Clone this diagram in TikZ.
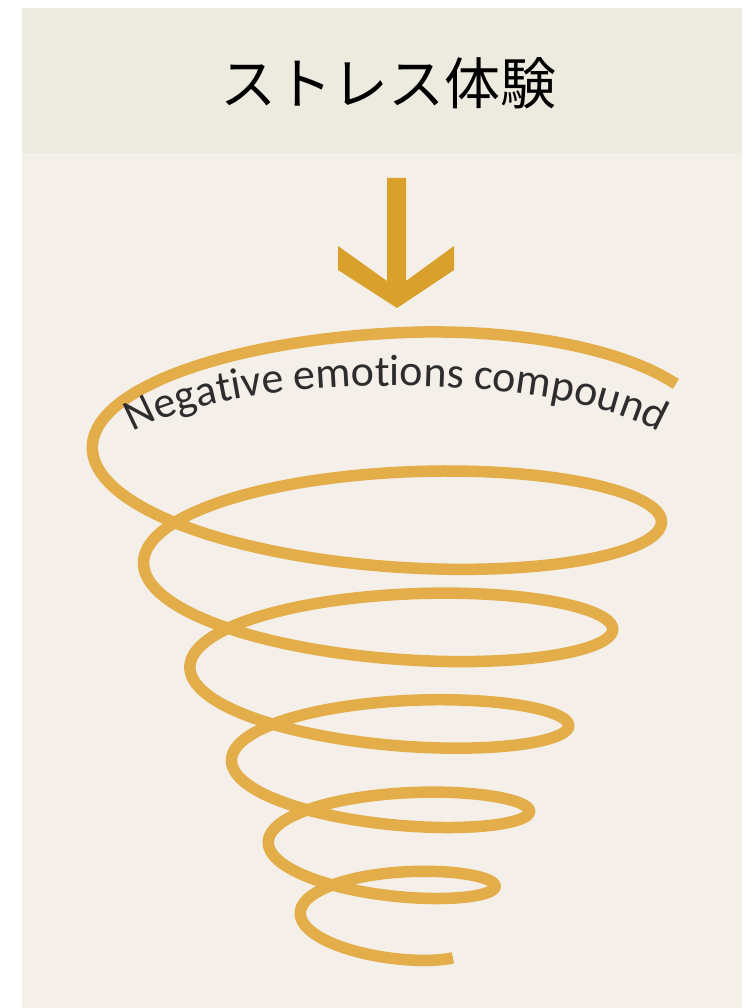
\documentclass[tikz,border=0pt]{standalone}
\usepackage{fontspec}
\usepackage{xcolor}
\usepackage{tikz}
\usetikzlibrary{decorations.text}
\newfontfamily\jpfont{Noto Sans CJK JP}
\newfontfamily\labelfont{Carlito}
\definecolor{headbg}{RGB}{237,234,224}
\definecolor{panelbg}{RGB}{244,239,232}
\definecolor{coilgold}{RGB}{227,173,74}
\definecolor{arrowgold}{RGB}{218,160,44}
\definecolor{labelgray}{RGB}{45,45,45}

\begin{document}
\begin{tikzpicture}[x=1pt,y=-1pt,
  coil/.style={line width=11.5pt,coilgold},
  declare function={coilr(\u)=325-28*\u+0.6*\u*\u;
    coilb(\u)=12+88*exp(-0.165*\u);
    coily(\u)=395.3+62.5*\u-1.37*\u*\u+147*max(0,0.5-\u)*max(0,0.5-\u);}]
  % --- Hintergrund ---
  \useasboundingbox (0,0) rectangle (742,1008);
  \fill[white] (0,0) rectangle (742,1008);
  \fill[headbg] (22,8) rectangle (742,153);
  \fill[panelbg] (22,153) rectangle (742,1008);
  % --- Titel ---
  \node[font=\jpfont\fontsize{56}{60}\selectfont,inner sep=0pt] (title) at (388,83) {ストレス体験};
  % --- Pfeil nach unten ---
  \fill[arrowgold] (387,178) -- (406,178) -- (406,281) -- (454,246) -- (454,270)
    -- (397,308) -- (338,270) -- (338,246) -- (387,281) -- cycle;
  % --- Spirale ---
  \draw[coil] plot[domain=0.15:11.8,samples=700,variable=\t]
    ({390+coilr(\t)*cos(180*\t)},{coily(\t)+0.02*coilr(\t)*cos(180*\t)-coilb(\t)*sin(180*\t)});
  % --- Text auf dem Bogen ---
  \path[decorate,decoration={text along path,text align=center,text color=labelgray,
      text={|\labelfont\fontsize{44}{44}\selectfont|Negative emotions compound}}]
    (396,466) ++(-157.5:290 and 80) arc[start angle=-157.5,end angle=-22.5,x radius=290,y radius=80];
\end{tikzpicture}
\end{document}
